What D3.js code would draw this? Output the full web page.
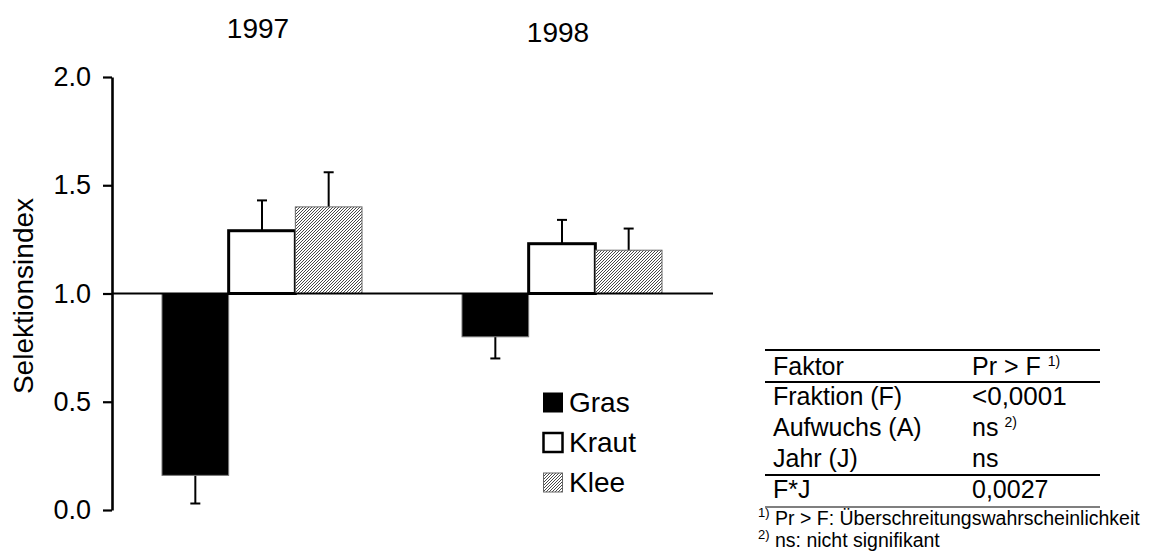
<!DOCTYPE html>
<html>
<head>
<meta charset="utf-8">
<script src="https://cdn.jsdelivr.net/npm/d3@7"></script>
<style>
  html, body { margin: 0; padding: 0; background: #fff; }
  svg { display: block; font-family: "Liberation Sans", Arial, sans-serif; }
</style>
</head>
<body>
<svg id="chart" width="1159" height="553"></svg>
<script>
// ---- data ----
const years = ["1997", "1998"];
const fractions = ["Gras", "Kraut", "Klee"];
const grasValues = [0.16, 0.80];
const grasErrors = [0.13, 0.10];
const krautValues = [1.29, 1.23];
const krautErrors = [0.14, 0.11];
const kleeValues = [1.40, 1.20];
const kleeErrors = [0.16, 0.10];
const yTicks = [0.0, 0.5, 1.0, 1.5, 2.0];
const yLabel = "Selektionsindex";
const tableHeader = ["Faktor", "Pr > F"];
const tableFactors = ["Fraktion (F)", "Aufwuchs (A)", "Jahr (J)", "F*J"];
const tablePValues = ["<0,0001", "ns", "ns", "0,0027"];
const footnotes = ["Pr > F: Überschreitungswahrscheinlichkeit", "ns: nicht signifikant"];

const seriesValues = [grasValues, krautValues, kleeValues];
const seriesErrors = [grasErrors, krautErrors, kleeErrors];

const svg = d3.select("#chart");

// pattern for Klee
const defs = svg.append("defs");
const pat = defs.append("pattern").attr("id", "hatch")
  .attr("patternUnits", "userSpaceOnUse").attr("width", 3).attr("height", 3);
pat.append("rect").attr("width", 3).attr("height", 3).attr("fill", "#fff");
pat.append("path").attr("d", "M-1,1 l2,-2 M0,3 l3,-3 M2,4 l2,-2")
  .attr("stroke", "#333").attr("stroke-width", 0.9);

// scales
const y = d3.scaleLinear().domain([0, 2]).range([510, 77]);
const x0 = d3.scaleBand().domain(years).range([112, 712])
  .paddingInner(1 / 3).paddingOuter(1 / 6);
const x1 = d3.scaleBand().domain(fractions).range([0, x0.bandwidth()]);

const base = 1.0;
const fills = { Gras: "#000", Kraut: "#fff", Klee: "url(#hatch)" };
const strokes = { Gras: "#777", Kraut: "#000", Klee: "#666" };
const strokeW = { Gras: 1, Kraut: 3, Klee: 1 };

// bars
const barData = [];
fractions.forEach((f, fi) => {
  years.forEach((yr, yi) => {
    barData.push({ f, yr, v: seriesValues[fi][yi], e: seriesErrors[fi][yi] });
  });
});

// error bars first (behind bars)
const gErr = svg.append("g");
barData.forEach(d => {
  const cx = x0(d.yr) + x1(d.f) + x1.bandwidth() / 2;
  const end = d.v >= base ? d.v + d.e : d.v - d.e;
  gErr.append("line").attr("x1", cx).attr("x2", cx)
    .attr("y1", y(d.v)).attr("y2", y(end))
    .attr("stroke", "#000").attr("stroke-width", 2);
  gErr.append("line").attr("x1", cx - 5).attr("x2", cx + 5)
    .attr("y1", y(end)).attr("y2", y(end))
    .attr("stroke", "#000").attr("stroke-width", 2);
});

const gBarsTop = svg.append("g");
fractions.forEach(f => {
  gBarsTop.selectAll(null).data(barData.filter(d => d.f === f)).enter().append("rect")
    .attr("x", d => x0(d.yr) + x1(d.f))
    .attr("width", x1.bandwidth())
    .attr("y", d => Math.min(y(d.v), y(base)))
    .attr("height", d => Math.abs(y(d.v) - y(base)))
    .attr("fill", fills[f])
    .attr("stroke", strokes[f])
    .attr("stroke-width", strokeW[f]);
});

// baseline at 1.0
svg.append("line").attr("x1", 112).attr("x2", 713)
  .attr("y1", y(base)).attr("y2", y(base))
  .attr("stroke", "#000").attr("stroke-width", 2.2);

// y axis
const yAxis = d3.axisLeft(y).tickValues(yTicks).tickFormat(d3.format(".1f"))
  .tickSize(9).tickSizeOuter(0).tickPadding(12);
const gy = svg.append("g").attr("transform", "translate(112,0)").call(yAxis);
gy.select(".domain").attr("stroke", "#000").attr("stroke-width", 2.6);
gy.selectAll(".tick line").attr("stroke", "#000").attr("stroke-width", 2.2);
gy.selectAll(".tick text").attr("fill", "#000")
  .style("font-size", "27px").style("font-family", "'Liberation Sans', Arial, sans-serif");

// y label
svg.append("text")
  .attr("transform", "translate(33,296) rotate(-90)")
  .attr("text-anchor", "middle")
  .style("font-size", "28px")
  .text(yLabel);

// year labels
const yearOffsets = [38, 42];
years.forEach((yr, i) => {
  svg.append("text")
    .attr("x", x0(yr) + x0.bandwidth() / 2 - 4)
    .attr("y", yearOffsets[i])
    .attr("text-anchor", "middle")
    .style("font-size", "28px")
    .text(yr);
});

// legend
const legend = svg.append("g");
fractions.forEach((f, i) => {
  const ly = 393 + i * 40;
  legend.append("rect").attr("x", 543.5).attr("y", ly).attr("width", 19).attr("height", 19)
    .attr("fill", fills[f])
    .attr("stroke", f === "Klee" ? "#666" : "#000")
    .attr("stroke-width", f === "Kraut" ? 2.5 : 1);
  legend.append("text").attr("x", 569).attr("y", ly + 19)
    .style("font-size", "28px").text(f);
});

// table
const tbl = svg.append("g");
const tx1 = 773, tx2 = 972, lineX1 = 765, lineX2 = 1100;
[[350, 2], [382, 2.2], [475, 2.2], [507, 1.2]].forEach(([ly, w]) => {
  tbl.append("line").attr("x1", lineX1).attr("x2", lineX2).attr("y1", ly).attr("y2", ly)
    .attr("stroke", "#000").attr("stroke-width", w);
});
tbl.append("text").attr("x", tx1).attr("y", 375).style("font-size", "25px").text(tableHeader[0]);
const hdr2 = tbl.append("text").attr("x", tx2).attr("y", 375).style("font-size", "25px");
hdr2.append("tspan").text(tableHeader[1] + " ");
hdr2.append("tspan").attr("dy", -9).style("font-size", "14px").text("1)");
const rowY = [405, 436, 467, 498];
tableFactors.forEach((t, i) => {
  tbl.append("text").attr("x", tx1).attr("y", rowY[i]).style("font-size", "25px").text(t);
  const pt = tbl.append("text").attr("x", tx2).attr("y", rowY[i]).style("font-size", i === 0 ? "26px" : "25px");
  pt.append("tspan").text(tablePValues[i]);
  if (i === 1) {
    pt.append("tspan").attr("dx", 6).attr("dy", -9).style("font-size", "14px").text("2)");
  }
});
// footnotes
const fnY = [525, 547];
footnotes.forEach((t, i) => {
  tbl.append("text").attr("x", 758).attr("y", fnY[i] - 8).style("font-size", "13px").text((i + 1) + ")");
  tbl.append("text").attr("x", 775).attr("y", fnY[i]).style("font-size", "19.5px").text(t);
});
</script>
</body>
</html>
